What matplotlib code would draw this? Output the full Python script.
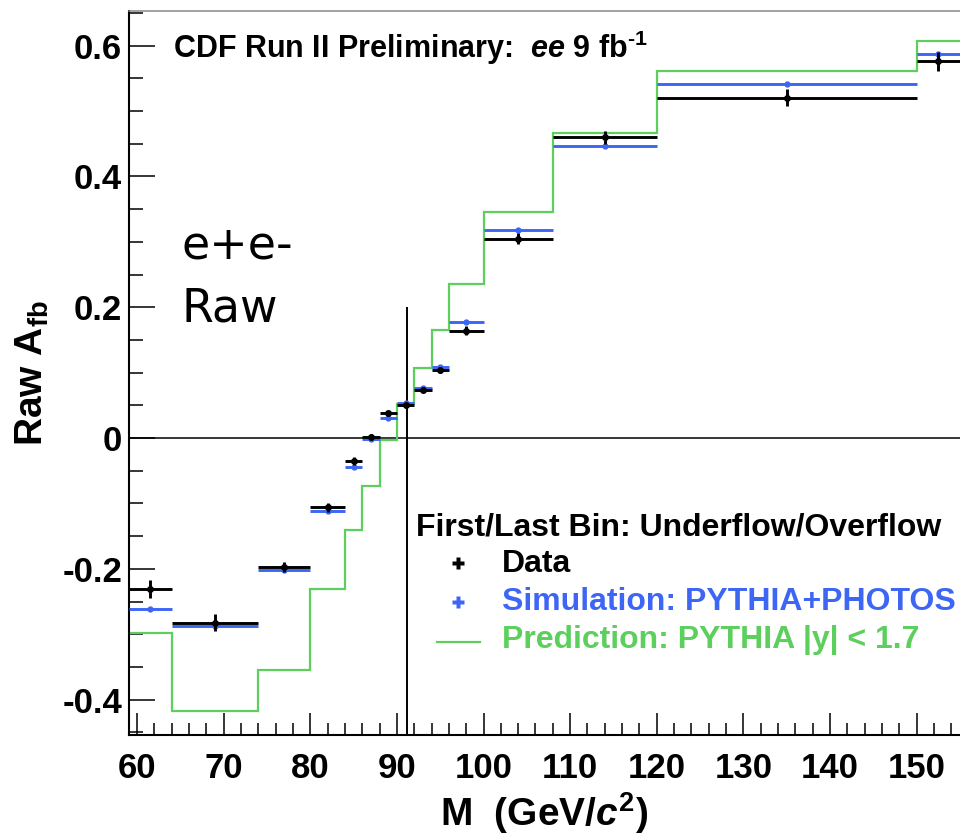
"""
Raw forward-backward asymmetry vs. di-electron mass (CDF ee 9 fb-1)
"""
import matplotlib
matplotlib.use('Agg')
import matplotlib.pyplot as plt
from matplotlib.ticker import FixedLocator, MultipleLocator
import numpy as np

# Bin edges in GeV/c^2, first and last bins are under/overflow
bin_edges = [59.08, 64, 74, 80, 84, 86, 88, 90, 92, 94, 96, 100, 108, 120, 150, 155]

data_afb = [-0.231, -0.282, -0.197, -0.106, -0.035, 0.002, 0.038, 0.050,
            0.074, 0.104, 0.164, 0.305, 0.460, 0.520, 0.576]
data_err = [0.014, 0.013, 0.008, 0.007, 0.006, 0.004, 0.004, 0.004,
            0.004, 0.005, 0.007, 0.008, 0.010, 0.013, 0.015]

sim_afb = [-0.262, -0.287, -0.201, -0.111, -0.044, -0.002, 0.031, 0.054,
           0.077, 0.109, 0.178, 0.318, 0.447, 0.541, 0.588]
sim_err = [0.003, 0.003, 0.003, 0.003, 0.003, 0.002, 0.002, 0.002,
           0.002, 0.002, 0.003, 0.003, 0.003, 0.003, 0.003]

pred_afb = [-0.298, -0.417, -0.355, -0.231, -0.141, -0.074, -0.003, 0.052,
            0.107, 0.165, 0.235, 0.346, 0.466, 0.562, 0.607]

mass_z = 91.19
x_ticks = [60, 70, 80, 90, 100, 110, 120, 130, 140, 150]
y_ticks = [-0.4, -0.2, 0.0, 0.2, 0.4, 0.6]
y_tick_labels = ['-0.4', '-0.2', '0', '0.2', '0.4', '0.6']

BLUE = '#3d66f5'
GREEN = '#5ccf5c'

plt.rcParams['font.family'] = ['Liberation Sans', 'DejaVu Sans']
plt.rcParams['font.weight'] = 'bold'
plt.rcParams['axes.unicode_minus'] = False
plt.rcParams['mathtext.fontset'] = 'custom'
plt.rcParams['mathtext.rm'] = 'Liberation Sans:bold'
plt.rcParams['mathtext.bf'] = 'Liberation Sans:bold'
plt.rcParams['mathtext.it'] = 'Liberation Sans:bold:italic'

W, H = 960, 838


def fpx(x, y):
    # pixel position (from top-left) -> figure fraction
    return x / W, 1 - y / H


edges = np.array(bin_edges)
centers = 0.5 * (edges[:-1] + edges[1:])
half = 0.5 * np.diff(edges)

fig = plt.figure(figsize=(W / 100, H / 100), dpi=100)
ax = fig.add_axes([129 / W, 103 / H, 831 / W, 724 / H])
ax.set_xlim(59.08, 155)
ax.set_ylim(-0.454, 0.653)

ax.axhline(0, color='black', lw=1.1, zorder=1)
ax.vlines(mass_z, -0.454, 0.2, color='black', lw=1.4, zorder=1)

ax.stairs(pred_afb, edges, baseline=None, color=GREEN, lw=1.6, zorder=2)
ax.errorbar(centers, sim_afb, xerr=half, yerr=sim_err, fmt='o', ms=3.5,
            color=BLUE, elinewidth=2.1, capsize=0, zorder=3)
ax.errorbar(centers, data_afb, xerr=half, yerr=data_err, fmt='o', ms=4,
            color='black', elinewidth=2.1, capsize=0, zorder=4)

# axes styling, ROOT-like
ax.spines['right'].set_visible(False)
ax.spines['top'].set_color('#888888')
ax.spines['top'].set_linewidth(1.1)
ax.spines['left'].set_linewidth(1.5)
ax.spines['bottom'].set_linewidth(1.5)

ax.xaxis.set_major_locator(FixedLocator(x_ticks))
ax.xaxis.set_minor_locator(MultipleLocator(2))
ax.set_xticklabels([str(t) for t in x_ticks])
ax.yaxis.set_major_locator(FixedLocator(y_ticks))
ax.yaxis.set_minor_locator(MultipleLocator(0.05))
ax.set_yticklabels(y_tick_labels)

ax.tick_params(axis='x', which='major', direction='in', length=16, width=1.1,
               labelsize=25, pad=12, top=False)
ax.tick_params(axis='x', which='minor', direction='in', length=8.5, width=1.1, top=False)
ax.tick_params(axis='y', which='major', direction='in', length=18.5, width=1.1,
               labelsize=25, pad=5, right=False)
ax.tick_params(axis='y', which='minor', direction='in', length=10, width=1.1, right=False)

ax.set_xlabel('M  (GeV/$c^{2}$)', fontsize=28, fontweight='bold')
ax.xaxis.label.set_va('baseline')
ax.xaxis.set_label_coords(0.5, -0.1257)
ax.set_ylabel(r'Raw A$_{\mathregular{fb}}$', fontsize=28, fontweight='bold')
ax.yaxis.label.set_va('baseline')
ax.yaxis.set_label_coords(-0.1035, 0.5)

# title
fig.text(*fpx(173, 58), r'CDF Run II Preliminary:  $ee$ 9 fb$^{\text{-1}}$',
         fontsize=22, fontweight='bold', va='baseline', ha='left')

# big annotation
fig.text(*fpx(182, 258), 'e+e-', fontsize=33, fontweight='normal',
         family='DejaVu Sans', va='baseline', ha='left')
fig.text(*fpx(182, 322), 'Raw', fontsize=33, fontweight='normal',
         family='DejaVu Sans', va='baseline', ha='left')

# legend drawn by hand
fig.text(*fpx(416, 535), 'First/Last Bin: Underflow/Overflow', fontsize=23,
         fontweight='bold', va='baseline', ha='left')
fig.text(*fpx(502, 572), 'Data', fontsize=23, fontweight='bold',
         color='black', va='baseline', ha='left')
fig.text(*fpx(502, 610), 'Simulation: PYTHIA+PHOTOS', fontsize=23,
         fontweight='bold', color=BLUE, va='baseline', ha='left')
fig.text(*fpx(502, 648), 'Prediction: PYTHIA |y| < 1.7', fontsize=23,
         fontweight='bold', color=GREEN, va='baseline', ha='left')

kx, ky = fpx(458, 563)
ax.plot([kx], [ky], marker='P', ms=8, color='black', mec='none',
        transform=fig.transFigure, clip_on=False)
kx, ky = fpx(458, 602)
ax.plot([kx], [ky], marker='P', ms=8, color=BLUE, mec='none',
        transform=fig.transFigure, clip_on=False)
x0, ly = fpx(437, 642)
x1, _ = fpx(480, 642)
ax.plot([x0, x1], [ly, ly], color=GREEN, lw=1.6,
        transform=fig.transFigure, clip_on=False)

fig.savefig('out.png', dpi=100)
